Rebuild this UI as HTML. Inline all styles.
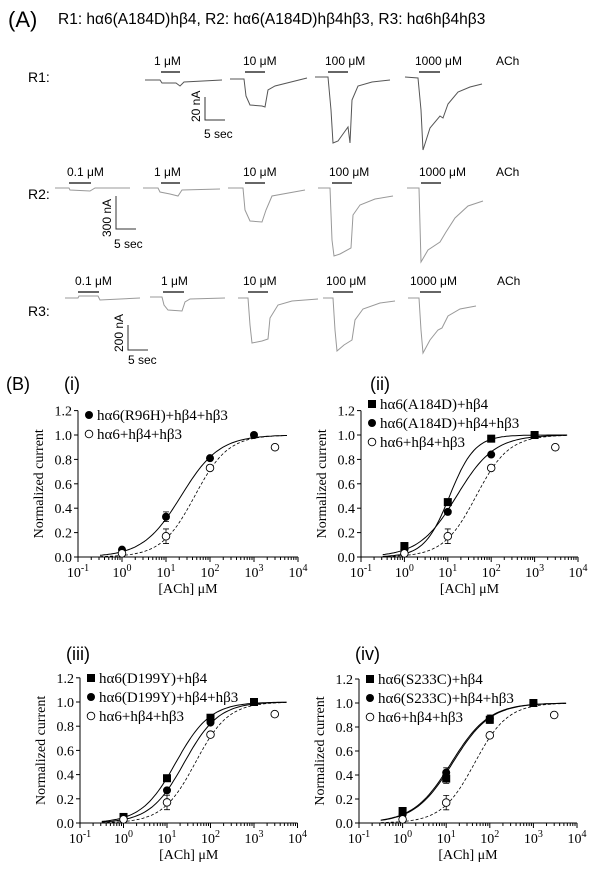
<!DOCTYPE html>
<html><head><meta charset="utf-8">
<style>
body{margin:0;background:#fff;}
svg{display:block;}
.sans{font-family:"Liberation Sans","DejaVu Sans",sans-serif;}
.serif{font-family:"Liberation Serif","DejaVu Serif",serif;}
</style></head>
<body>
<svg id="fig" width="600" height="872" viewBox="0 0 600 872" xmlns="http://www.w3.org/2000/svg">
<g class="sans">
<text x="8" y="27" font-size="22">(A)</text>
<text x="58" y="24" font-size="15.5">R1: hα6(A184D)hβ4, R2: hα6(A184D)hβ4hβ3, R3: hα6hβ4hβ3</text>
<text x="28" y="82" font-size="14">R1:</text>
<text x="28" y="199" font-size="14">R2:</text>
<text x="28" y="316" font-size="14">R3:</text>
<g font-size="12">
<text x="154" y="65">1 μM</text><text x="243" y="65">10 μM</text><text x="325" y="65">100 μM</text><text x="415" y="65">1000 μM</text><text x="496" y="65">ACh</text>
<text x="67" y="176">0.1 μM</text><text x="154" y="176">1 μM</text><text x="243" y="176">10 μM</text><text x="329" y="176">100 μM</text><text x="419" y="176">1000 μM</text><text x="496" y="176">ACh</text>
<text x="75" y="285">0.1 μM</text><text x="161" y="285">1 μM</text><text x="243" y="285">10 μM</text><text x="326" y="285">100 μM</text><text x="410" y="285">1000 μM</text><text x="497" y="285">ACh</text>
</g>
<g stroke="#333" stroke-width="1.5">
<line x1="161" y1="72" x2="180" y2="72"/><line x1="245" y1="72" x2="265" y2="72"/><line x1="328" y1="72" x2="348" y2="72"/><line x1="419" y1="72" x2="440" y2="72"/>
<line x1="69" y1="183" x2="91" y2="183"/><line x1="161" y1="183" x2="180" y2="183"/><line x1="245" y1="183" x2="265" y2="183"/><line x1="332" y1="183" x2="352" y2="183"/><line x1="421" y1="183" x2="441" y2="183"/>
<line x1="78" y1="292" x2="99" y2="292"/><line x1="163" y1="292" x2="184" y2="292"/><line x1="248" y1="292" x2="268" y2="292"/><line x1="333" y1="292" x2="353" y2="292"/><line x1="420" y1="292" x2="441" y2="292"/>
</g>
<g fill="none" stroke="#555" stroke-width="1">
<path d="M145 80 L160 80 L162 83 L176 83 L180 86 L184 82 L222 80"/>
<path d="M230 79 L244 79 L246 96 L250 105 L262 106 L265 107 L268 90 L275 86 L307 78"/>
<path d="M315 77 L328 77 L331 110 L333 143 L338 141 L348 127 L350 143 L352 100 L358 86 L372 82 L390 80"/>
<path d="M405 77 L418 78 L421 110 L423 150 L430 128 L440 116 L443 118 L448 104 L458 92 L470 87 L482 84"/>
</g>
<g fill="none" stroke="#999" stroke-width="1">
<path d="M55 188 L69 188 L70 190 L90 191 L95 188 L130 188"/>
<path d="M143 188 L158 188 L160 192 L170 194 L178 196 L182 190 L220 189"/>
<path d="M228 188 L243 188 L245 210 L250 221 L262 222 L266 210 L272 196 L305 190"/>
<path d="M318 188 L330 188 L332 240 L334 256 L340 254 L351 248 L353 215 L360 205 L375 199 L393 196"/>
<path d="M407 188 L419 188 L421 262 L428 250 L440 242 L446 232 L455 218 L468 206 L483 201"/>
</g>
<g fill="none" stroke="#999" stroke-width="1">
<path d="M65 298 L78 298 L79 296 L98 296 L100 300 L140 298"/>
<path d="M150 297 L162 297 L164 305 L168 310 L182 311 L185 302 L190 299 L225 298"/>
<path d="M238 298 L248 298 L250 325 L252 343 L262 341 L268 339 L270 318 L278 305 L292 301 L318 299"/>
<path d="M323 298 L333 298 L335 330 L337 351 L344 345 L352 340 L355 320 L363 309 L380 303 L395 301"/>
<path d="M408 298 L419 298 L421 330 L423 353 L430 340 L438 330 L442 328 L448 316 L460 309 L476 306"/>
</g>
<g stroke="#333" stroke-width="1" fill="none">
<path d="M205 97 L205 120 L225 120"/>
<path d="M116 196 L116 229 L136 229"/>
<path d="M128 325 L128 350 L148 350"/>
</g>
<g font-size="12">
<text transform="translate(200,122) rotate(-90)">20 nA</text><text x="204" y="138">5 sec</text>
<text transform="translate(111,237) rotate(-90)">300 nA</text><text x="114" y="248">5 sec</text>
<text transform="translate(123,352) rotate(-90)">200 nA</text><text x="128" y="364">5 sec</text>
</g>
</g>
<g class="sans" font-size="18">
<text x="6" y="390">(B)</text>
<text x="64" y="390">(i)</text><text x="370" y="390">(ii)</text>
<text x="66" y="660">(iii)</text><text x="355" y="660">(iv)</text>
</g>
<g id="charts"></g>
</svg>
<script>
// Chart data
const concs = [1, 10, 100, 1000];
const wtConcs = [1, 10, 100, 3000];
const wtVals = [0.03, 0.17, 0.73, 0.90];
const wtErr = [0.01, 0.06, 0.02, 0.01];
const r96hVals = [0.06, 0.33, 0.81, 1.0];
const r96hErr = [0.01, 0.04, 0.01, 0.01];
const a184dB4Vals = [0.09, 0.45, 0.97, 1.0];
const a184dB4B3Vals = [0.06, 0.37, 0.84, 1.0];
const d199yB4Vals = [0.05, 0.37, 0.87, 1.0];
const d199yB4B3Vals = [0.03, 0.27, 0.83, 1.0];
const s233cB4Vals = [0.10, 0.37, 0.86, 1.0];
const s233cB4B3Vals = [0.07, 0.42, 0.87, 1.0];
const smallErr = [0.01, 0.02, 0.02, 0.01];
const s233cErr = [0.01, 0.04, 0.03, 0.01];
// Hill fit parameters [EC50 µM, Hill slope]
const fitWt = [45, 1.15];
const fitR96H = [22, 1.0];
const fitA184DB4 = [11, 1.5];
const fitA184DB4B3 = [16, 1.0];
const fitD199YB4 = [16, 1.1];
const fitD199YB4B3 = [25, 1.1];
const fitS233CB4 = [14, 1.0];
const fitS233CB4B3 = [13, 1.0];
const yTicks = [0, 0.2, 0.4, 0.6, 0.8, 1.0, 1.2];
const xTickExps = [-1, 0, 1, 2, 3, 4];

const NS = "http://www.w3.org/2000/svg";
const root = document.getElementById('charts');
function mk(tag, attrs, parent) {
  const e = document.createElementNS(NS, tag);
  for (const k in attrs) e.setAttribute(k, attrs[k]);
  parent.appendChild(e);
  return e;
}

const charts = [
  {name:'chart-i', x0:78, dec:44, y0:557, unit:122, legY:416,
   series:[{lab:'hα6(R96H)+hβ4+hβ3', m:'dot', x:concs, v:r96hVals, e:r96hErr, fit:fitR96H, dash:false},
           {lab:'hα6+hβ4+hβ3', m:'open', x:wtConcs, v:wtVals, e:wtErr, fit:fitWt, dash:true}]},
  {name:'chart-ii', x0:361, dec:43.4, y0:557, unit:122, legY:409,
   series:[{lab:'hα6(A184D)+hβ4', m:'sq', x:concs, v:a184dB4Vals, e:smallErr, fit:fitA184DB4, dash:false},
           {lab:'hα6(A184D)+hβ4+hβ3', m:'dot', x:concs, v:a184dB4B3Vals, e:smallErr, fit:fitA184DB4B3, dash:false},
           {lab:'hα6+hβ4+hβ3', m:'open', x:wtConcs, v:wtVals, e:wtErr, fit:fitWt, dash:true}]},
  {name:'chart-iii', x0:80, dec:43.5, y0:823, unit:121, legY:683,
   series:[{lab:'hα6(D199Y)+hβ4', m:'sq', x:concs, v:d199yB4Vals, e:smallErr, fit:fitD199YB4, dash:false},
           {lab:'hα6(D199Y)+hβ4+hβ3', m:'dot', x:concs, v:d199yB4B3Vals, e:smallErr, fit:fitD199YB4B3, dash:false},
           {lab:'hα6+hβ4+hβ3', m:'open', x:wtConcs, v:wtVals, e:wtErr, fit:fitWt, dash:true}]},
  {name:'chart-iv', x0:359, dec:43.6, y0:823, unit:120, legY:684,
   series:[{lab:'hα6(S233C)+hβ4', m:'sq', x:concs, v:s233cB4Vals, e:s233cErr, fit:fitS233CB4, dash:false},
           {lab:'hα6(S233C)+hβ4+hβ3', m:'dot', x:concs, v:s233cB4B3Vals, e:s233cErr, fit:fitS233CB4B3, dash:false},
           {lab:'hα6+hβ4+hβ3', m:'open', x:wtConcs, v:wtVals, e:wtErr, fit:fitWt, dash:true}]}
];

function marker(g, m, cx, cy) {
  if (m === 'sq') return mk('rect', {x:cx-4, y:cy-4, width:8, height:8, fill:'#000'}, g);
  if (m === 'dot') return mk('circle', {cx:cx, cy:cy, r:4, fill:'#000'}, g);
  return mk('circle', {cx:cx, cy:cy, r:3.8, fill:'#fff', stroke:'#000', 'stroke-width':0.9}, g);
}

charts.forEach(c => {
  const g = mk('g', {class:'serif'}, root);
  
  
  const X = v => c.x0 + (Math.log10(v) + 1) * c.dec;
  const Y = v => c.y0 - v * c.unit;
  const xEnd = c.x0 + 5 * c.dec;
  const ax = mk('g', {stroke:'#000', 'stroke-width':1}, g);
  
  
  mk('line', {x1:c.x0, y1:Y(1.2), x2:c.x0, y2:c.y0}, ax);
  mk('line', {x1:c.x0, y1:c.y0, x2:xEnd, y2:c.y0}, ax);
  yTicks.forEach(t => {
    mk('line', {x1:c.x0-4, y1:Y(t), x2:c.x0, y2:Y(t)}, ax);
    const tx = mk('text', {x:c.x0-6, y:Y(t)+5, 'font-size':14, 'text-anchor':'end', stroke:'none'}, g);
    
    
    tx.textContent = t.toFixed(1);
  });
  xTickExps.forEach(ex => {
    const px = c.x0 + (ex + 1) * c.dec;
    mk('line', {x1:px, y1:c.y0, x2:px, y2:c.y0+5}, ax);
    if (ex < 4) for (let k = 2; k < 10; k++) {
      const mp = px + Math.log10(k) * c.dec;
      mk('line', {x1:mp, y1:c.y0, x2:mp, y2:c.y0+3}, ax);
    }
    const tx = mk('text', {x:px, y:c.y0+20, 'font-size':14, 'text-anchor':'middle'}, g);
    
    
    tx.innerHTML = '10<tspan dy="-6" font-size="10">' + ex + '</tspan>';
  });
  const xt = mk('text', {x:c.x0 + 2.5*c.dec, y:c.y0+36, 'font-size':14, 'text-anchor':'middle'}, g);
  
  
  xt.textContent = '[ACh] μM';
  const yt = mk('text', {transform:'translate(' + (c.x0-35) + ',' + Y(0.6) + ') rotate(-90)', 'font-size':14, 'text-anchor':'middle'}, g);
  
  
  yt.textContent = 'Normalized current';
  c.series.forEach((s, si) => {
    const sg = mk('g', {}, g);
    
    
    let d = '';
    for (let lx = -0.5; lx <= 3.75; lx += 0.05) {
      const conc = Math.pow(10, lx);
      const r = 1 / (1 + Math.pow(s.fit[0] / conc, s.fit[1]));
      d += (d ? 'L' : 'M') + X(conc).toFixed(1) + ' ' + Y(r).toFixed(1);
    }
    const fp = mk('path', {d:d, fill:'none', stroke:'#000', 'stroke-width':s.dash ? 0.8 : 1, 'stroke-dasharray':s.dash ? '3,2' : 'none'}, sg);
    
    
    s.v.forEach((v, i) => {
      const cx = X(s.x[i]), cy = Y(v);
      const e = s.e[i] * c.unit;
      if (e > 3) {
        const eb = mk('path', {d:'M'+cx+' '+(cy-e)+'V'+(cy+e)+'M'+(cx-3)+' '+(cy-e)+'H'+(cx+3)+'M'+(cx-3)+' '+(cy+e)+'H'+(cx+3), stroke:'#000', 'stroke-width':0.8, fill:'none'}, sg);
        
        
      }
      const mkr = marker(sg, s.m, cx, cy);
      
      
    });
    const ly = c.legY + si * 19 + (c.series.length === 2 ? 4 : 0);
    const le = mk('g', {}, g);
    
    
    marker(le, s.m, c.x0 + 11, ly - 5);
    const lt = mk('text', {x:c.x0 + 19, y:ly, 'font-size':15}, le);
    lt.textContent = s.lab;
  });
});
</script>
</body></html>
